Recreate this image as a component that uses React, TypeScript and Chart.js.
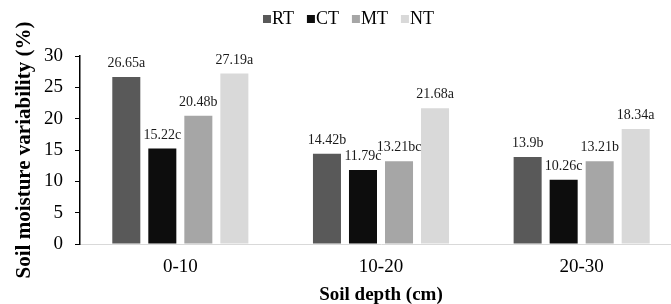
import React, { useEffect, useRef } from "react";
import { Chart, registerables } from "chart.js";

Chart.register(...registerables);

const categories = ["0-10", "10-20", "20-30"];
const seriesNames = ["RT", "CT", "MT", "NT"];
const rtValues = [26.65, 14.42, 13.9];
const ctValues = [15.22, 11.79, 10.26];
const mtValues = [20.48, 13.21, 13.21];
const ntValues = [27.19, 21.68, 18.34];
const rtLetters = ["a", "b", "b"];
const ctLetters = ["c", "c", "c"];
const mtLetters = ["b", "bc", "b"];
const ntLetters = ["a", "a", "a"];
const colors = ["#595959", "#0d0d0d", "#a6a6a6", "#d9d9d9"];
const yTitle = "Soil moisture variability (%)";
const xTitle = "Soil depth (cm)";

const SERIF = "'Liberation Serif', 'Times New Roman', serif";

const valueLists = [rtValues, ctValues, mtValues, ntValues];
const letterLists = [rtLetters, ctLetters, mtLetters, ntLetters];

const labelPlugin = {
  id: "valueLabels",
  afterDatasetsDraw(chart: any) {
    const ctx = chart.ctx;
    ctx.save();
    ctx.font = `14px ${SERIF}`;
    ctx.fillStyle = "#1a1a1a";
    ctx.textAlign = "center";
    ctx.textBaseline = "alphabetic";
    chart.data.datasets.forEach((ds: any, di: number) => {
      const meta = chart.getDatasetMeta(di);
      meta.data.forEach((el: any, i: number) => {
        const txt = `${ds.data[i]}${letterLists[di][i]}`;
        ctx.fillText(txt, el.x, el.y - 10);
      });
    });
    ctx.restore();
  },
};

const legendPlugin = {
  id: "customLegend",
  afterDraw(chart: any) {
    const ctx = chart.ctx;
    ctx.save();
    ctx.font = `18px ${SERIF}`;
    ctx.textBaseline = "middle";
    ctx.textAlign = "left";
    let x = 263;
    const cy = 19;
    chart.data.datasets.forEach((ds: any) => {
      ctx.fillStyle = ds.backgroundColor;
      ctx.fillRect(x, cy - 4, 8, 8);
      x += 9;
      ctx.fillStyle = "#000";
      ctx.fillText(ds.label, x, cy);
      x += ctx.measureText(ds.label).width + 13;
    });
    ctx.restore();
  },
};

export default function App() {
  const ref = useRef<HTMLCanvasElement>(null);
  useEffect(() => {
    if (!ref.current) return;
    const chart = new Chart(ref.current, {
      type: "bar",
      data: {
        labels: categories,
        datasets: seriesNames.map((name, i) => ({
          label: name,
          data: valueLists[i],
          backgroundColor: colors[i],
          borderWidth: 0,
          categoryPercentage: 0.718,
          barPercentage: 0.778,
        })),
      },
      options: {
        responsive: false,
        animation: false,
        devicePixelRatio: 1,
        layout: { padding: { top: 56, left: 0, right: 0, bottom: 0 } },
        plugins: {
          legend: { display: false },
          tooltip: { enabled: false },
        },
        scales: {
          x: {
            grid: { display: true, drawOnChartArea: false, drawTicks: false },
            border: { display: true, color: "#d9d9d9", width: 1 },
            ticks: { font: { family: SERIF, size: 19 }, color: "#000", padding: 12 },
            title: {
              display: true,
              text: xTitle,
              color: "#000",
              font: { family: SERIF, size: 19, weight: "bold" },
              padding: { top: 0, bottom: 0 },
            },
            afterFit: (s: any) => {
              s.height = 62;
            },
          },
          y: {
            min: 0,
            max: 30,
            ticks: { stepSize: 5, font: { family: SERIF, size: 19 }, color: "#000", padding: 12 },
            grid: { display: true, drawOnChartArea: false, drawTicks: true, tickLength: 5, color: "#000" },
            border: { display: true, color: "#000", width: 1.5 },
            title: {
              display: true,
              text: yTitle,
              color: "#000",
              font: { family: SERIF, size: 21, weight: "bold" },
              padding: { top: 12, bottom: 0 },
            },
            afterFit: (s: any) => {
              s.width = 80;
            },
          },
        },
      } as any,
      plugins: [labelPlugin, legendPlugin],
    });
    return () => chart.destroy();
  }, []);
  return (
    <div
      style={{
        position: "fixed",
        left: 0,
        top: 0,
        width: 671,
        height: 304,
        overflow: "hidden",
        background: "#fff",
      }}
    >
      <canvas ref={ref} width={682} height={306} style={{ display: "block" }} />
    </div>
  );
}
